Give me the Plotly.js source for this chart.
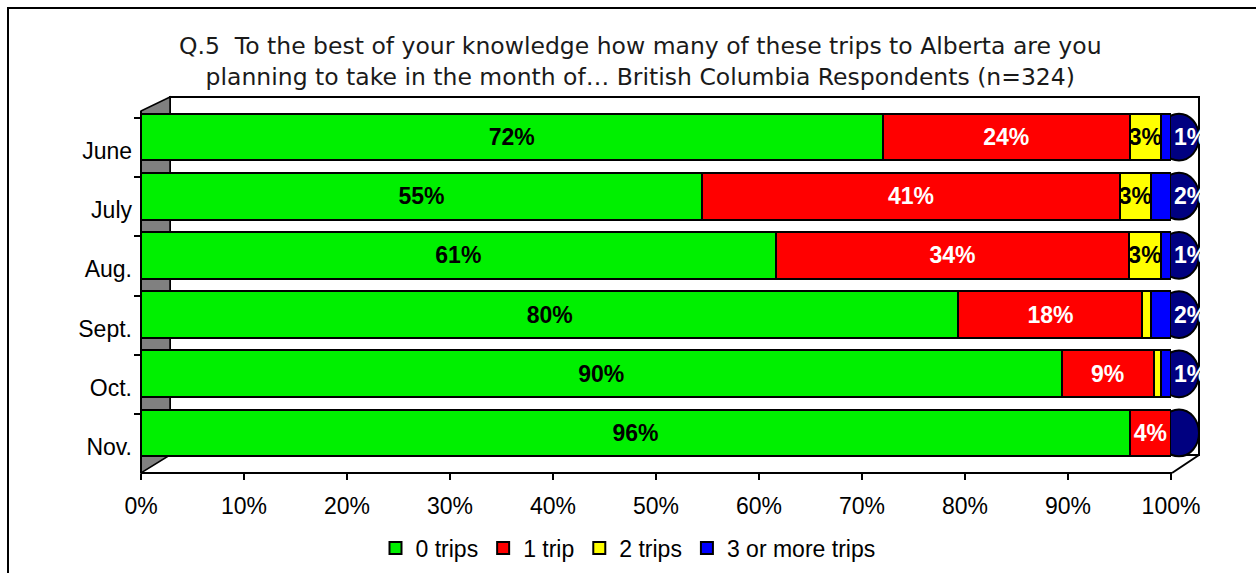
<!DOCTYPE html>
<html>
<head>
<meta charset="utf-8">
<script src="https://cdn.plot.ly/plotly-3.0.1.min.js"></script>
<style>html,body{margin:0;padding:0;background:#fff;}#chart{width:1256px;height:573px;}</style>
</head>
<body>
<div id="chart"></div>
<script>
// ---- data ----
const months = ["June", "July", "Aug.", "Sept.", "Oct.", "Nov."];
const seriesNames = ["0 trips", "1 trip", "2 trips", "3 or more trips"];
const zeroTrips = [72, 55, 61, 80, 90, 96];
const oneTrip = [24, 41, 34, 18, 9, 4];
const twoTrips = [3, 3, 3, 0.8, 0.7, 0];
const threePlus = [1, 2, 1, 2, 1, 0];
const xTicks = [0, 10, 20, 30, 40, 50, 60, 70, 80, 90, 100];
const titleText = "Q.5  To the best of your knowledge how many of these trips to Alberta are you<br>planning to take in the month of… British Columbia Respondents (n=324)";

const colors = ["#00f000", "#ff0000", "#ffff00", "#0000ff"];
const textColors = ["#000000", "#ffffff", "#000000", "#ffffff"];
const allSeries = [zeroTrips, oneTrip, twoTrips, threePlus];

// 100% stacked: each month is scaled to its own total
const totals = months.map((m, i) => allSeries.reduce((a, s) => a + s[i], 0));

// pixel helpers for the 3D frame (plot area: l=141, r=1171, t=97, b=473)
const L = 141, R = 1171, T = 97, B = 473;
const px = x => (x - L) / (R - L);
const py = y => (B - y) / (B - T);

const idx = months.map((m, i) => i);

const traces = allSeries.map((vals, s) => ({
  type: "bar",
  orientation: "h",
  name: seriesNames[s],
  y: idx,
  x: vals.map((v, i) => Math.round(v / totals[i] * 100 * 1000) / 1000),
  width: 0.79,
  marker: { color: colors[s], line: { color: "#000", width: 2 } },
  text: vals.map(v => v >= 1 ? Math.round(v) + "%" : ""),
  textposition: s === 3 ? "outside" : "inside",
  insidetextanchor: "middle",
  textangle: 0,
  constraintext: "none",
  cliponaxis: false,
  textfont: { family: "Liberation Sans, Arial, sans-serif", size: 23, color: textColors[s], weight: "bold" },
  outsidetextfont: { family: "Liberation Sans, Arial, sans-serif", size: 23, color: "#ffffff", weight: "bold" },
  hoverinfo: "skip"
}));

const shapes = [
  // outer border
  { type: "rect", xref: "paper", yref: "paper", x0: px(8), y0: py(8), x1: px(1270), y1: py(590),
    line: { color: "#000", width: 2 }, fillcolor: "rgba(0,0,0,0)", layer: "below" },
  // back wall
  { type: "rect", xref: "paper", yref: "paper", x0: px(170), y0: py(97), x1: px(1199), y1: py(455),
    line: { color: "#000", width: 2 }, fillcolor: "#ffffff", layer: "below" },
  // left gray side wall
  { type: "path", xref: "paper", yref: "paper",
    path: `M ${px(141)},${py(111)} L ${px(170)},${py(97)} L ${px(170)},${py(455)} L ${px(141)},${py(473)} Z`,
    fillcolor: "#808080", line: { color: "#000", width: 1.5 }, layer: "below" },
  // floor front edge
  { type: "line", xref: "paper", yref: "paper", x0: px(141), y0: py(473), x1: px(1172), y1: py(473),
    line: { color: "#000", width: 2 } },
  // floor right diagonal
  { type: "line", xref: "paper", yref: "paper", x0: px(1172), y0: py(473), x1: px(1199), y1: py(455),
    line: { color: "#000", width: 2 } },
  // left axis line
  { type: "line", xref: "paper", yref: "paper", x0: px(141), y0: py(111), x1: px(141), y1: py(473),
    line: { color: "#000", width: 2 } }
].concat(idx.map(i => ({
  // navy end cap of each 100% stacked bar (cylinder look)
  type: "circle", xref: "paper", yref: "y", xsizemode: "pixel", xanchor: 1,
  x0: -12, x1: 28, y0: i - 0.395, y1: i + 0.395,
  fillcolor: "#000080", line: { color: "#000", width: 2 }, layer: "below"
})));

const layout = {
  width: 1256, height: 573,
  margin: { l: L, r: 1256 - R, t: T, b: 573 - B, pad: 0, autoexpand: false },
  paper_bgcolor: "#ffffff",
  plot_bgcolor: "rgba(0,0,0,0)",
  barmode: "stack",
  showlegend: true,
  uniformtext: { mode: "show", minsize: 23 },
  annotations: [{
    text: titleText,
    xref: "paper", yref: "paper",
    x: px(640), y: py(61), xanchor: "center", yanchor: "middle",
    showarrow: false, align: "center",
    font: { family: "DejaVu Sans, Verdana, sans-serif", size: 23.5, color: "#1a1a1a" }
  }],
  xaxis: {
    range: [0, 100],
    tickvals: xTicks,
    ticktext: xTicks.map(v => v + "%"),
    ticks: "outside", ticklen: 6, tickwidth: 2, tickcolor: "#000",
    showgrid: false, zeroline: false, showline: false,
    ticklabelstandoff: 6,
    automargin: false,
    tickfont: { family: "Liberation Sans, Arial, sans-serif", size: 23, color: "#000" },
    fixedrange: true
  },
  yaxis: {
    range: [5.676, -0.676],
    tickvals: idx.map(i => i + 0.235),
    ticktext: months,
    ticks: "",
    minor: { tickmode: "array", tickvals: [-0.32, 0.68, 1.68, 2.68, 3.68, 4.68], ticks: "outside", ticklen: 6, tickwidth: 2, tickcolor: "#000", showgrid: false },
    showgrid: false, zeroline: false, showline: false,
    ticklabelstandoff: 8,
    automargin: false,
    tickfont: { family: "Liberation Sans, Arial, sans-serif", size: 23, color: "#000" },
    fixedrange: true
  },
  legend: {
    orientation: "h",
    x: px(628), xanchor: "center",
    y: py(548), yanchor: "middle",
    font: { family: "Liberation Sans, Arial, sans-serif", size: 23, color: "#000" },
    itemwidth: 30,
    tracegroupgap: 0,
    traceorder: "normal"
  },
  shapes: shapes
};

Plotly.newPlot("chart", traces, layout, { displayModeBar: false, staticPlot: true });
</script>
</body>
</html>
